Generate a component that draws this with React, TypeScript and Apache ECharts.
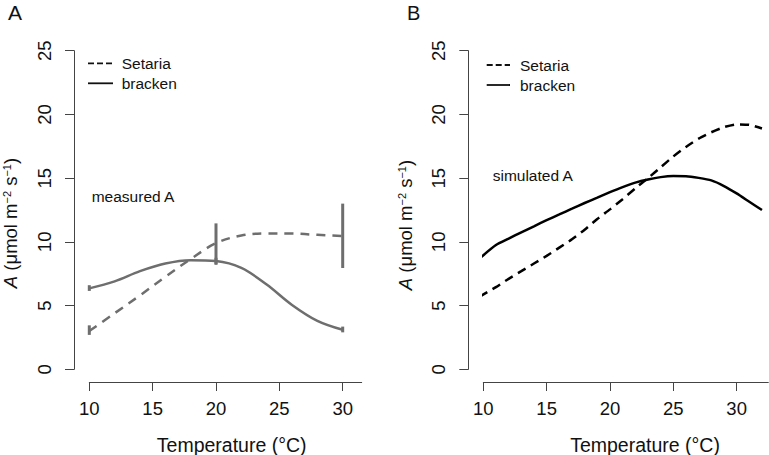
import React, { useEffect, useRef } from "react";
import * as echarts from "echarts";

// Panel A: measured A (smooth curves)
const measTemps = [10, 12, 14, 16, 18, 20, 22, 24, 26, 28, 30];
const measBracken = [6.35, 6.9, 7.7, 8.3, 8.56, 8.49, 7.95, 6.65, 5.05, 3.8, 3.1];
const measSetaria = [3.0, 4.4, 5.8, 7.25, 8.65, 9.9, 10.5, 10.66, 10.65, 10.55, 10.45];

// Error bars at the measured temperatures
const errTemps = [10, 20, 30];
const setariaLo = [2.7, 8.2, 7.95];
const setariaHi = [3.45, 11.45, 13.0];
const brackenLo = [6.15, 8.25, 2.9];
const brackenHi = [6.6, 8.75, 3.35];

// Panel B: simulated A
const simTemps = [9.7, 11, 12, 13, 14, 15, 16, 17, 18, 19, 20, 21, 22, 23, 24, 25, 26, 27, 28, 29, 30, 31, 32];
const simBracken = [8.7, 9.75, 10.25, 10.75, 11.22, 11.7, 12.15, 12.6, 13.05, 13.47, 13.9, 14.3, 14.65, 14.9, 15.08, 15.16, 15.15, 15.02, 14.82, 14.38, 13.8, 13.15, 12.5];
const simSetaria = [5.7, 6.45, 7.1, 7.7, 8.3, 8.9, 9.55, 10.2, 10.95, 11.8, 12.55, 13.35, 14.2, 15.0, 15.85, 16.7, 17.45, 18.1, 18.6, 19.0, 19.22, 19.18, 18.9];

const xTicks = [10, 15, 20, 25, 30];

const FONT = '"Liberation Sans", Arial, Helvetica, sans-serif';
const GRAY = "#6e6e6e";
const AXIS = "#444";

const zip = (xs: number[], ys: number[]) => xs.map((x, i) => [x, ys[i]]);

function xAxisCfg(grid: number, max: number) {
  return {
    gridIndex: grid,
    type: "value",
    min: 10,
    max,
    offset: 12.7,
    axisLine: { show: true, onZero: false, lineStyle: { color: AXIS, width: 1 } },
    axisTick: { show: true, length: 9, customValues: xTicks, lineStyle: { color: AXIS, width: 1 } },
    axisLabel: { customValues: xTicks, margin: 17, fontSize: 18.5, color: "#111", fontFamily: FONT },
    splitLine: { show: false },
  };
}

function yAxisCfg(grid: number, offset: number) {
  return {
    gridIndex: grid,
    type: "value",
    min: 0,
    max: 25,
    interval: 5,
    offset,
    position: "left",
    axisLine: { show: true, onZero: false, lineStyle: { color: AXIS, width: 1 } },
    axisTick: { show: true, length: 9, lineStyle: { color: AXIS, width: 1 } },
    axisLabel: { rotate: 90, margin: 20, fontSize: 18.5, color: "#111", fontFamily: FONT },
    splitLine: { show: false },
  };
}

function errSeries(lo: number[], hi: number[]) {
  return {
    type: "custom",
    xAxisIndex: 0,
    yAxisIndex: 0,
    clip: false,
    data: errTemps.map((t, i) => [t, lo[i], hi[i]]),
    encode: { x: 0, y: [1, 2] },
    renderItem: (params: any, api: any) => {
      const p1 = api.coord([api.value(0), api.value(1)]);
      const p2 = api.coord([api.value(0), api.value(2)]);
      return {
        type: "line",
        shape: { x1: p1[0], y1: p1[1], x2: p2[0], y2: p2[1] },
        style: { stroke: GRAY, lineWidth: 3 },
      };
    },
  };
}

function yTitle(x: number, y: number) {
  return {
    type: "text",
    x,
    y,
    rotation: Math.PI / 2,
    style: {
      text: "{i|A} (μmol m{sup|−2} s{sup|−1})",
      fontFamily: FONT,
      fontSize: 18.5,
      lineHeight: 18,
      fill: "#111",
      align: "center",
      verticalAlign: "middle",
      rich: {
        i: { fontStyle: "italic", fontSize: 18.5, fontFamily: FONT, lineHeight: 18 },
        sup: { fontSize: 11, fontFamily: FONT, lineHeight: 18, verticalAlign: "top" },
      },
    },
  };
}

function legend(x1: number, x2: number, tx: number, y1: number, y2: number) {
  return [
    { type: "line", shape: { x1, y1, x2, y2: y1 }, style: { stroke: "#111", lineWidth: 1.8, lineDash: [6, 3] } },
    { type: "line", shape: { x1, y1: y2, x2, y2 }, style: { stroke: "#111", lineWidth: 1.8 } },
    { type: "text", x: tx, y: y1, style: { text: "Setaria", fontFamily: FONT, fontSize: 15.5, fill: "#111", verticalAlign: "middle" } },
    { type: "text", x: tx, y: y2, style: { text: "bracken", fontFamily: FONT, fontSize: 15.5, fill: "#111", verticalAlign: "middle" } },
  ];
}

export default function App() {
  const ref = useRef<HTMLDivElement>(null);
  useEffect(() => {
    if (!ref.current) return;
    const chart = echarts.init(ref.current, undefined, { renderer: "svg" });
    const option: any = {
      animation: false,
      backgroundColor: "#fff",
      grid: [
        { left: 89.3, right: 407.3, top: 50.7, bottom: 85.7, containLabel: false, outerBoundsMode: "none" },
        { left: 483.3, right: 0.7, top: 50.7, bottom: 85.7, containLabel: false, outerBoundsMode: "none" },
      ],
      xAxis: [xAxisCfg(0, 31.5), xAxisCfg(1, 32.5)],
      yAxis: [yAxisCfg(0, 15.3), yAxisCfg(1, 15)],
      series: [
        {
          type: "line", xAxisIndex: 0, yAxisIndex: 0, data: zip(measTemps, measBracken),
          smooth: 0.35, showSymbol: false, clip: false,
          lineStyle: { color: GRAY, width: 2.5 },
        },
        {
          type: "line", xAxisIndex: 0, yAxisIndex: 0, data: zip(measTemps, measSetaria),
          smooth: 0.35, showSymbol: false, clip: false,
          lineStyle: { color: GRAY, width: 2.5, type: [9, 7] },
        },
        errSeries(setariaLo, setariaHi),
        errSeries(brackenLo, brackenHi),
        {
          type: "line", xAxisIndex: 1, yAxisIndex: 1, data: zip(simTemps, simBracken),
          smooth: 0.2, showSymbol: false, clip: false,
          lineStyle: { color: "#000", width: 2.5 },
        },
        {
          type: "line", xAxisIndex: 1, yAxisIndex: 1, data: zip(simTemps, simSetaria),
          smooth: 0.2, showSymbol: false, clip: false,
          lineStyle: { color: "#000", width: 2.5, type: [9, 6] },
        },
      ],
      graphic: [
        { type: "text", x: 8, y: 2, style: { text: "A", fontFamily: FONT, fontSize: 21, fill: "#111" } },
        { type: "text", x: 407, y: 3, style: { text: "B", fontFamily: FONT, fontSize: 20, fill: "#111" } },
        ...legend(88, 113, 121.7, 63.3, 83.3),
        ...legend(486.7, 510, 520, 65, 85),
        { type: "text", x: 91.7, y: 196.7, style: { text: "measured A", fontFamily: FONT, fontSize: 15.5, fill: "#111", verticalAlign: "middle" } },
        { type: "text", x: 492.7, y: 175, style: { text: "simulated A", fontFamily: FONT, fontSize: 15.5, fill: "#111", verticalAlign: "middle" } },
        { type: "text", x: 231.7, y: 445, style: { text: "Temperature (°C)", fontFamily: FONT, fontSize: 19.5, fill: "#111", align: "center", verticalAlign: "middle" } },
        { type: "text", x: 645, y: 445, style: { text: "Temperature (°C)", fontFamily: FONT, fontSize: 19.5, fill: "#111", align: "center", verticalAlign: "middle" } },
        yTitle(10, 223),
        yTitle(405, 225),
      ],
    };
    chart.setOption(option);
    return () => chart.dispose();
  }, []);
  return (
    <div
      ref={ref}
      style={{ position: "fixed", left: 0, top: 0, width: 769, height: 455, background: "#fff" }}
    />
  );
}
